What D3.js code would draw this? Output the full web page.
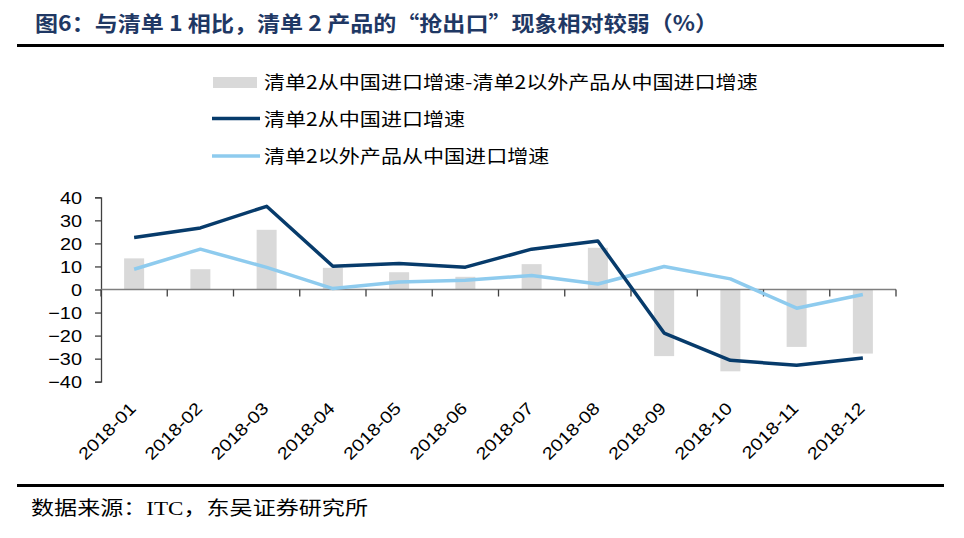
<!DOCTYPE html>
<html><head><meta charset="utf-8">
<script src="https://cdn.jsdelivr.net/npm/d3@7"></script>
<style>body{margin:0;background:#fff;}svg{display:block;}</style>
</head><body>
<script>
const categories = ["2018-01","2018-02","2018-03","2018-04","2018-05","2018-06","2018-07","2018-08","2018-09","2018-10","2018-11","2018-12"];
const diffValues = [13.5, 8.8, 25.9, 9.4, 7.5, 5.5, 11.0, 18.1, -28.9, -35.5, -24.9, -27.8];
const list2Values = [22.6, 26.7, 36.1, 10.1, 11.3, 9.7, 17.5, 21.0, -18.9, -30.7, -32.9, -29.7];
const otherValues = [8.8, 17.5, 9.6, 0.4, 3.3, 4.0, 6.1, 2.4, 10.0, 4.6, -8.1, -2.2];
const yTicks = [40, 30, 20, 10, 0, -10, -20, -30, -40];
const seriesNames = ["清单2从中国进口增速-清单2以外产品从中国进口增速", "清单2从中国进口增速", "清单2以外产品从中国进口增速"];
const titleText = "图6：与清单 1 相比，清单 2 产品的“抢出口”现象相对较弱（%）";
const sourceText = "数据来源：ITC，东吴证券研究所";

const W = 964, H = 538;
const svg = d3.select("body").append("svg").attr("width", W).attr("height", H);
const cjk = "'Noto Sans CJK SC', sans-serif";
const latin = "Liberation Sans, Arial, sans-serif";
const stretch = 1.17;

// title
svg.append("text").attr("x", 35).attr("y", 31)
  .attr("font-family", "'Noto Sans CJK SC', serif").attr("font-weight", "bold")
  .attr("font-size", 21).attr("fill", "#1f3864")
  .attr("textLength", 683).attr("lengthAdjust", "spacingAndGlyphs")
  .text(titleText);
svg.append("rect").attr("x", 17).attr("y", 44).attr("width", 927).attr("height", 3).attr("fill", "#000");

// footer
svg.append("rect").attr("x", 17).attr("y", 484).attr("width", 927).attr("height", 3).attr("fill", "#000");
svg.append("text").attr("x", 31).attr("y", 515)
  .attr("font-family", "'Liberation Serif', 'Noto Sans CJK SC', serif").attr("font-size", 19).attr("fill", "#000")
  .attr("textLength", 337).attr("lengthAdjust", "spacingAndGlyphs")
  .text(sourceText);

// scales
const x = d3.scaleBand().domain(categories).range([101, 896]).paddingInner(0).paddingOuter(0);
const y = d3.scaleLinear().domain([-40, 40]).range([381.7, 197.3]);
const barW = 20;

// bars
svg.append("g").selectAll("rect").data(diffValues).join("rect")
  .attr("x", (d, i) => x(categories[i]) + x.bandwidth() / 2 - barW / 2)
  .attr("width", barW)
  .attr("y", d => y(Math.max(0, d)))
  .attr("height", d => Math.abs(y(d) - y(0)))
  .attr("fill", "#d9d9d9");

// y axis
const yAxis = d3.axisLeft(y).tickValues(yTicks).tickSize(6).tickFormat(d3.format("d"));
const gy = svg.append("g").attr("transform", "translate(101,0)").call(yAxis);
gy.select(".domain").attr("stroke", "#404040").attr("stroke-width", 1.3);
gy.selectAll(".tick line").attr("stroke", "#404040").attr("stroke-width", 1.3);
gy.selectAll(".tick text").attr("font-family", latin).attr("font-size", 17).attr("fill", "#000")
  .attr("x", 0).attr("dy", "0.36em").attr("text-anchor", "end")
  .attr("transform", `translate(-19,0) scale(${stretch},1)`);

// x axis at zero
const boundaries = categories.map(c => x(c)).concat([896]);
const gx = svg.append("g");
gx.append("line").attr("x1", 101).attr("x2", 896).attr("y1", y(0)).attr("y2", y(0)).attr("stroke", "#7f7f7f").attr("stroke-width", 1.5);
gx.selectAll("line.tk").data(boundaries).join("line").attr("class", "tk")
  .attr("x1", d => d).attr("x2", d => d).attr("y1", y(0)).attr("y2", y(0) + 7)
  .attr("stroke", "#404040").attr("stroke-width", 1.3);
gx.selectAll("text").data(categories).join("text")
  .attr("transform", d => `translate(${x(d) + x.bandwidth() / 2 + 3},409.5) rotate(-45) scale(${stretch},1)`)
  .attr("text-anchor", "end").attr("font-family", latin).attr("font-size", 17).attr("fill", "#000")
  .text(d => d);

// lines
const line = d3.line().x((d, i) => x(categories[i]) + x.bandwidth() / 2).y(d => y(d));
svg.append("path").datum(otherValues).attr("d", line).attr("fill", "none")
  .attr("stroke", "#8ecbee").attr("stroke-width", 3.5).attr("stroke-linejoin", "round");
svg.append("path").datum(list2Values).attr("d", line).attr("fill", "none")
  .attr("stroke", "#073b6b").attr("stroke-width", 3.5).attr("stroke-linejoin", "round");

// legend
const leg = svg.append("g");
leg.append("rect").attr("x", 213).attr("y", 77).attr("width", 44).attr("height", 11).attr("fill", "#d9d9d9");
leg.append("line").attr("x1", 212).attr("x2", 260).attr("y1", 118.5).attr("y2", 118.5).attr("stroke", "#073b6b").attr("stroke-width", 3.5);
leg.append("line").attr("x1", 212).attr("x2", 260).attr("y1", 156).attr("y2", 156).attr("stroke", "#8ecbee").attr("stroke-width", 3.5);
const legY = [83, 120, 157];
leg.selectAll("text").data(seriesNames).join("text")
  .attr("transform", (d, i) => `translate(264,${legY[i]}) scale(${stretch},1)`)
  .attr("dy", "0.35em")
  .attr("font-family", cjk).attr("font-size", 18).attr("fill", "#000")
  .text(d => d);
</script>
</body></html>
